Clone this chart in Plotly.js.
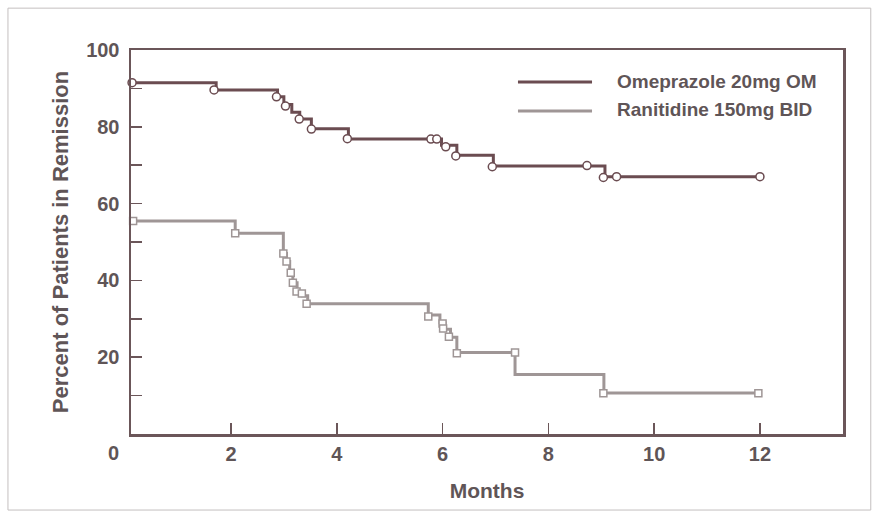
<!DOCTYPE html>
<html>
<head>
<meta charset="utf-8">
<script src="https://cdn.plot.ly/plotly-3.0.1.min.js"></script>
<style>
html,body{margin:0;padding:0;background:#fff;}
#chart{width:879px;height:517px;}
</style>
</head>
<body>
<div id="chart"></div>
<script>
// Omeprazole 20mg OM: Kaplan-Meier step curve (time in months, % in remission)
var omeTime  = [0.13, 1.72, 2.88, 3.00, 3.15, 3.30, 3.52, 4.22, 5.98, 6.27, 6.96, 9.07, 12.0];
var omeLevel = [91.5, 89.6, 87.8, 85.8, 83.8, 82.0, 79.5, 76.8, 75.2, 72.6, 69.8, 67.0, 67.0];
// Omeprazole censor markers
var omeMarkTime  = [0.13, 1.68, 2.86, 3.03, 3.29, 3.52, 4.20, 5.78, 5.89, 6.06, 6.25, 6.94, 8.73, 9.04, 9.29, 12.0];
var omeMarkLevel = [91.5, 89.6, 87.8, 85.4, 82.0, 79.4, 76.9, 76.8, 76.8, 74.8, 72.4, 69.6, 69.9, 66.8, 67.0, 67.0];

// Ranitidine 150mg BID
var raniTime  = [0.15, 2.08, 2.99, 3.05, 3.11, 3.17, 3.25, 3.35, 3.45, 5.73, 5.95, 6.05, 6.15, 6.27, 7.37, 9.05, 12.0];
var raniLevel = [55.5, 52.3, 47.0, 44.9, 42.0, 39.4, 37.1, 36.0, 33.9, 31.0, 29.0, 27.3, 25.2, 21.2, 15.5, 10.7, 10.7];
var raniMarkTime  = [0.15, 2.08, 2.99, 3.05, 3.13, 3.17, 3.24, 3.34, 3.43, 5.73, 6.00, 6.01, 6.12, 6.27, 7.37, 9.04, 11.97];
var raniMarkLevel = [55.5, 52.3, 47.0, 44.9, 42.0, 39.4, 37.1, 36.6, 33.9, 30.6, 28.8, 27.5, 25.3, 21.0, 21.2, 10.6, 10.6];

var seriesNames = ["Omeprazole 20mg OM", "Ranitidine 150mg BID"];
var xTickVals = [2, 4, 6, 8, 10, 12];
var yTickVals = [10, 20, 30, 40, 50, 60, 70, 80, 90, 100];
var yTickText = ["", "20", "", "40", "", "60", "", "80", "", "100"];

var omeColor = "#6b4c51";
var raniColor = "#9f9696";
var textColor = "#5f5557";
var axisColor = "#6b5659";
var fontFam = "Liberation Sans, Arial, Helvetica, sans-serif";

var traces = [
  {x: omeTime, y: omeLevel, mode: "lines", line: {shape: "hv", color: omeColor, width: 3}, hoverinfo: "skip", showlegend: false},
  {x: raniTime, y: raniLevel, mode: "lines", line: {shape: "hv", color: raniColor, width: 3}, hoverinfo: "skip", showlegend: false},
  {x: omeMarkTime, y: omeMarkLevel, mode: "markers", marker: {symbol: "circle", size: 8, color: "#ffffff", line: {color: omeColor, width: 1.5}}, showlegend: false, cliponaxis: false},
  {x: raniMarkTime, y: raniMarkLevel, mode: "markers", marker: {symbol: "square", size: 7, color: "#ffffff", line: {color: raniColor, width: 1.5}}, showlegend: false, cliponaxis: false}
];

var layout = {
  width: 879, height: 517,
  margin: {l: 131, r: 36, t: 50, b: 83},
  paper_bgcolor: "#ffffff", plot_bgcolor: "#ffffff",
  showlegend: false,
  font: {family: fontFam, color: textColor, size: 20, weight: "bold"},
  xaxis: {
    range: [0.11, 13.57], tickvals: xTickVals, ticks: "inside", ticklen: 11, tickwidth: 1.5, tickcolor: axisColor,
    showline: true, linecolor: axisColor, linewidth: 2.5, mirror: true, showgrid: false, zeroline: false,
    tickfont: {family: fontFam, size: 20, color: textColor, weight: "bold"},
    title: {text: "Months", font: {family: fontFam, size: 21, color: textColor, weight: "bold"}, standoff: 20}
  },
  yaxis: {
    range: [0, 100], tickvals: yTickVals, ticktext: yTickText, ticks: "inside", ticklen: 11, tickwidth: 1.5, tickcolor: axisColor,
    showline: true, linecolor: axisColor, linewidth: 2.5, mirror: true, showgrid: false, zeroline: false,
    tickfont: {family: fontFam, size: 20, color: textColor, weight: "bold"}, ticklabelstandoff: 5,
    title: {text: "Percent of Patients in Remission", font: {family: fontFam, size: 22, color: textColor, weight: "bold"}, standoff: 12}
  },
  shapes: [
    {type: "line", xref: "paper", yref: "paper", x0: 0.5435, x1: 0.6475, y0: 0.9167, y1: 0.9167, line: {color: omeColor, width: 3}},
    {type: "line", xref: "paper", yref: "paper", x0: 0.5435, x1: 0.6475, y0: 0.8411, y1: 0.8411, line: {color: raniColor, width: 3}},
    {type: "rect", xref: "paper", yref: "paper", x0: -0.1728, x1: 1.039, y0: -0.198, y1: 1.109, line: {color: "#c4bfbf", width: 1}}
  ],
  annotations: [
    {xref: "paper", yref: "paper", x: 0.6798, y: 0.919, xanchor: "left", yanchor: "middle", text: seriesNames[0], showarrow: false, font: {family: fontFam, size: 19, color: textColor, weight: "bold"}},
    {xref: "paper", yref: "paper", x: 0.6798, y: 0.844, xanchor: "left", yanchor: "middle", text: seriesNames[1], showarrow: false, font: {family: fontFam, size: 19, color: textColor, weight: "bold"}},
    {xref: "paper", yref: "paper", x: -0.0239, y: 0, yshift: -19, xanchor: "center", yanchor: "middle", text: "0", showarrow: false, font: {family: fontFam, size: 20, color: textColor, weight: "bold"}}
  ]
};

Plotly.newPlot("chart", traces, layout, {displayModeBar: false, staticPlot: true});
</script>
</body>
</html>
